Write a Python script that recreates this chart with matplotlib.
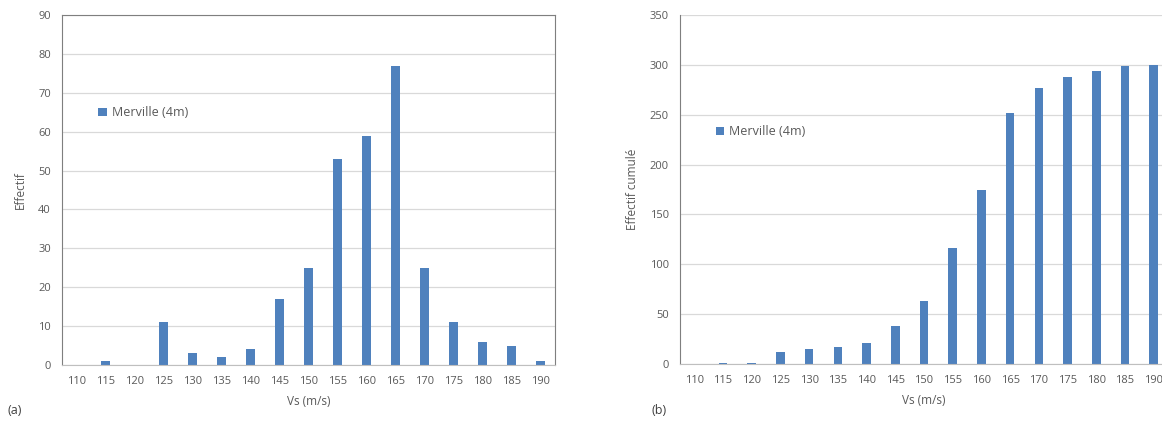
import matplotlib.pyplot as plt
import numpy as np

# classes de vitesse Vs (m/s)
categories = ['110', '115', '120', '125', '130', '135', '140', '145', '150',
              '155', '160', '165', '170', '175', '180', '185', '190']
effectif = [0, 1, 0, 11, 3, 2, 4, 17, 25, 53, 59, 77, 25, 11, 6, 5, 1]
effectif_cumule = [0, 1, 1, 12, 15, 17, 21, 38, 63, 116, 175, 252, 277, 288, 294, 299, 300]
serie = 'Merville (4m)'

plt.rcParams['font.family'] = ['Open Sans', 'DejaVu Sans']
txt = '#595959'
bleu = '#4F81BD'
grille = '#D9D9D9'

fig = plt.figure(figsize=(11.62, 4.26), dpi=100)
ax1 = fig.add_axes([0.0534, 0.1432, 0.4243, 0.8216])
ax2 = fig.add_axes([0.5852, 0.1455, 0.4200, 0.8192])

x = np.arange(len(categories))

def style(ax, ymax, step, ylabel):
    ax.set_xlim(-0.5, len(categories) - 0.5)
    ax.set_ylim(0, ymax)
    ax.set_yticks(np.arange(0, ymax + 1, step))
    ax.set_xticks(x)
    ax.set_xticklabels(categories)
    ax.yaxis.grid(True, color=grille, linewidth=0.9)
    ax.set_axisbelow(True)
    ax.tick_params(length=0, labelsize=8, colors=txt, pad=8)
    ax.set_xlabel('Vs (m/s)', fontsize=8.5, color=txt, labelpad=6)
    ax.set_ylabel(ylabel, fontsize=8.5, color=txt, labelpad=8)
    ax.spines['bottom'].set_color('#BFBFBF')
    ax.spines['left'].set_color('#7F7F7F')

ax1.bar(x, effectif, width=0.3, color=bleu, label=serie)
style(ax1, 90, 10, 'Effectif')
ax1.spines['top'].set_color('#7F7F7F')
ax1.spines['right'].set_color('#7F7F7F')
ax1.legend(loc='center left', bbox_to_anchor=(0.05, 0.72), frameon=False,
           fontsize=9, handlelength=0.7, handleheight=0.7, handletextpad=0.4,
           labelcolor=txt)

ax2.bar(x, effectif_cumule, width=0.3, color=bleu, label=serie)
style(ax2, 350, 50, 'Effectif cumulé')
ax2.spines['top'].set_visible(False)
ax2.spines['right'].set_visible(False)
ax2.legend(loc='center left', bbox_to_anchor=(0.05, 0.665), frameon=False,
           fontsize=9, handlelength=0.7, handleheight=0.7, handletextpad=0.4,
           labelcolor=txt)

fig.text(8 / 1162, 1 - 411 / 426, '(a)', fontsize=9, color='#404040', va='center')
fig.text(651 / 1162, 1 - 410 / 426, '(b)', fontsize=9, color='#404040', va='center')

fig.savefig('out.png', dpi=100)
